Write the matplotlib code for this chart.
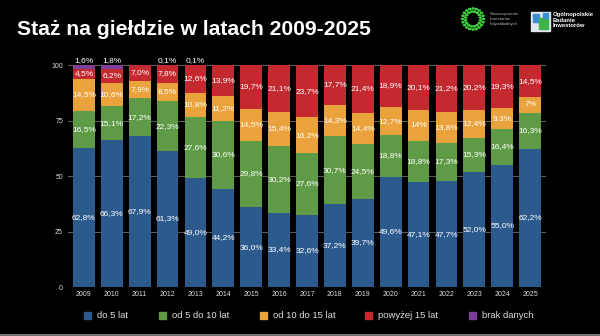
import matplotlib
matplotlib.use("Agg")
import matplotlib.pyplot as plt
from matplotlib.patches import Rectangle, Circle
import numpy as np

plt.rcParams['font.family'] = ['Liberation Sans', 'DejaVu Sans']

years = [str(y) for y in range(2009, 2026)]
do5 = [62.8, 66.3, 67.9, 61.3, 49.0, 44.2, 36.0, 33.4, 32.6, 37.2, 39.7, 49.6, 47.1, 47.7, 52.0, 55.0, 62.2]
od5do10 = [16.5, 15.1, 17.2, 22.3, 27.6, 30.6, 29.8, 30.2, 27.6, 30.7, 24.5, 18.8, 18.8, 17.3, 15.3, 16.4, 16.3]
od10do15 = [14.5, 10.6, 7.9, 8.5, 10.8, 11.2, 14.5, 15.4, 16.2, 14.3, 14.4, 12.7, 14.0, 13.8, 12.4, 9.3, 7.0]
pow15 = [4.5, 6.2, 7.0, 7.8, 12.6, 13.9, 19.7, 21.1, 23.7, 17.7, 21.4, 18.9, 20.1, 21.2, 20.2, 19.3, 14.5]
brak = [1.6, 1.8, 0.0, 0.1, 0.1, 0.0, 0.0, 0.0, 0.0, 0.0, 0.0, 0.0, 0.0, 0.0, 0.0, 0.0, 0.0]

series = [
    ("do 5 lat", do5, "#2d5a8c"),
    ("od 5 do 10 lat", od5do10, "#5f9b47"),
    ("od 10 do 15 lat", od10do15, "#eaa33c"),
    ("powyżej 15 lat", pow15, "#c22a30"),
    ("brak danych", brak, "#7c3e96"),
]


def fmt(v):
    return f"{v:.1f}".replace(".", ",") + "%"


# labels printed without decimals in the source table
whole_labels = {(2, 12): "14%", (2, 16): "7%"}

fig = plt.figure(figsize=(6.0, 3.36), dpi=100, facecolor="black")
ax = fig.add_axes([0.1133, 0.1458, 0.7967, 0.6607], facecolor="black")

x = np.arange(len(years))
bottom = np.zeros(len(years))
width = 0.78
for si, (name, vals, color) in enumerate(series):
    vals = np.array(vals)
    ax.bar(x, vals, width, bottom=bottom, color=color, label=name, zorder=2,
           edgecolor="none")
    for i, v in enumerate(vals):
        if v <= 0:
            continue
        lbl = whole_labels.get((si, i), fmt(v))
        if si == 4:
            ax.text(x[i], 101.8, lbl, ha="center", va="center", color="white",
                    fontsize=6, zorder=3)
        else:
            ax.text(x[i], bottom[i] + v / 2, lbl, ha="center", va="center",
                    color="white", fontsize=6, zorder=3)
    bottom = bottom + vals

ax.set_xlim(-0.57, len(years) - 0.43)
ax.set_ylim(0, 100)
ax.set_yticks([0, 25, 50, 75, 100])
ax.set_xticks(x)
ax.set_xticklabels(years)
ax.tick_params(axis="both", length=0, colors="#dddddd", labelsize=5)
ax.tick_params(axis="y", pad=3.6)
ax.tick_params(axis="x", pad=3)
ax.yaxis.grid(True, color="#5a5a5a", lw=0.8, zorder=0)
ax.set_axisbelow(True)
for sp in ax.spines.values():
    sp.set_visible(False)

# title
fig.text(17 / 600, 1 - 35 / 336, "Staż na giełdzie w latach 2009-2025", color="white",
         fontsize=15.2, fontweight="bold", ha="left", va="baseline")

# header logos
W, H = 600, 336
cx, cy = 473, 19
for r, n, off in ((10.5, 20, 0.0), (7.5, 16, 0.2)):
    for a in np.linspace(0, 2 * np.pi, n, endpoint=False) + off:
        fig.add_artist(Circle(((cx + r * np.cos(a)) / W, 1 - (cy + r * np.sin(a)) / H),
                              1.1 / W, transform=fig.transFigure, color="#3ecf3e"))
fig.text(490 / W, 1 - cy / H, "Stowarzyszenie\nInwestorów\nIndywidualnych", color="#bbbbbb",
         fontsize=3.0, ha="left", va="center", linespacing=1.3)
fig.add_artist(Rectangle((531 / W, 1 - 31 / H), 19 / W, 19 / H,
                         transform=fig.transFigure, color="#dfe6ee"))
fig.add_artist(Rectangle((533 / W, 1 - 22 / H), 6 / W, 8 / H,
                         transform=fig.transFigure, color="#3a8fd0"))
fig.add_artist(Rectangle((539 / W, 1 - 29 / H), 9 / W, 11 / H,
                         transform=fig.transFigure, color="#3fb34a"))
fig.add_artist(Rectangle((543 / W, 1 - 18 / H), 5 / W, 5 / H,
                         transform=fig.transFigure, color="#3a8fd0"))
fig.text(553 / W, 1 - 20 / H, "Ogólnopolskie\nBadanie\nInwestorów", color="white",
         fontsize=4.2, fontweight="bold", ha="left", va="center", linespacing=1.15)

# legend
leg_x = [87, 162, 263, 368, 472]
for (name, _, color), lx in zip(series, leg_x):
    fig.add_artist(Rectangle(((lx - 3.5) / W, (H - 318.5) / H), 7 / W, 7 / H,
                             transform=fig.transFigure, color=color))
    fig.text((lx + 10) / W, (H - 315) / H, name, color="#dddddd",
             fontsize=6.8, ha="left", va="center")

fig.add_artist(plt.Line2D([0, 1], [1.5 / H, 1.5 / H], transform=fig.transFigure,
                          color="#888888", lw=1.2))

fig.savefig("out.png", dpi=100, facecolor="black")
